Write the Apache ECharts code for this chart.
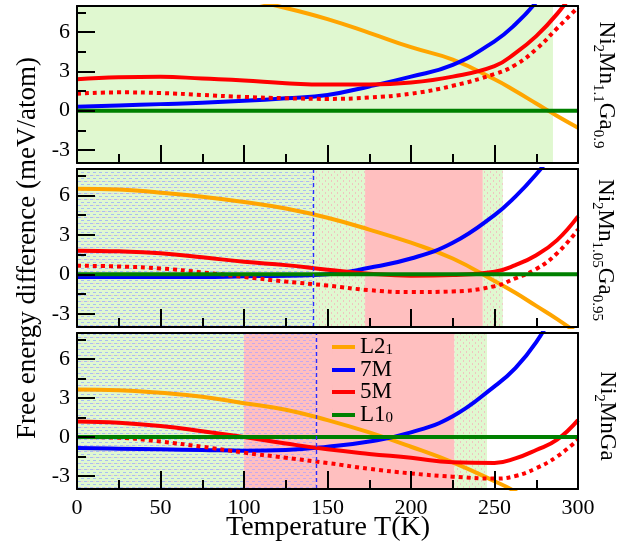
<!DOCTYPE html>
<html>
<head>
<meta charset="utf-8">
<script src="https://cdn.jsdelivr.net/npm/echarts@6/dist/echarts.min.js"></script>
<style>
  html, body { margin: 0; padding: 0; background: #fff; }
  #chart { width: 631px; height: 548px; }
</style>
</head>
<body>
<div id="chart"></div>
<script>
// temperature samples (K)
const temps = [0, 25, 50, 75, 100, 125, 150, 175, 200, 225, 250, 262.5, 275, 287.5, 300]

// Ni2Mn1.1Ga0.9
const p1L21 = [9.8, 9.7, 9.5, 9.1, 8.55, 7.85, 7.0, 5.95, 4.85, 3.9, 2.4, 1.5, 0.55, -0.4, -1.3]
const p1M7 = [0.3, 0.4, 0.5, 0.6, 0.75, 0.95, 1.2, 1.85, 2.6, 3.5, 5.3, 6.6, 8.3, 10.5, 13]
const p1M5 = [2.4, 2.55, 2.6, 2.45, 2.3, 2.1, 2.0, 2.0, 2.15, 2.6, 3.4, 4.4, 5.7, 7.4, 9.5]
const p1M5dot = [1.3, 1.4, 1.35, 1.2, 1.05, 0.95, 0.9, 1.0, 1.3, 1.9, 2.8, 3.5, 4.7, 6.3, 7.9]

// Ni2Mn1.05Ga0.95
const p2L21 = [6.5, 6.45, 6.2, 5.9, 5.5, 5.0, 4.3, 3.4, 2.4, 1.2, -0.5, -1.4, -2.4, -3.4, -4.5]
const p2M7 = [-0.2, -0.2, -0.2, -0.2, -0.15, -0.1, 0.0, 0.5, 1.2, 2.4, 4.5, 5.9, 7.6, 9.6, 12]
const p2M5 = [1.8, 1.75, 1.6, 1.3, 0.95, 0.7, 0.35, 0.05, -0.1, -0.05, 0.2, 0.7, 1.45, 2.6, 4.4]
const p2M5dot = [0.65, 0.6, 0.45, 0.15, -0.2, -0.55, -0.85, -1.2, -1.35, -1.3, -0.9, -0.3, 0.4, 1.6, 3.4]

// Ni2MnGa
const p3L21 = [3.65, 3.6, 3.4, 3.1, 2.6, 2.1, 1.3, 0.35, -0.75, -1.95, -3.4, -4.2, -5.3, -6.4, -7.6]
const p3M7 = [-0.85, -0.9, -0.95, -1.0, -1.05, -1.0, -0.75, -0.35, 0.35, 1.6, 3.9, 5.3, 7.3, 10, 13]
const p3M5 = [1.2, 1.1, 0.85, 0.45, 0.0, -0.5, -0.95, -1.3, -1.6, -1.95, -2.0, -1.65, -1.0, -0.2, 1.3]
const p3M5dot = [0.0, -0.05, -0.35, -0.75, -1.2, -1.6, -2.0, -2.45, -2.8, -3.05, -3.2, -3.0, -2.4, -1.5, -0.2]

const L10 = temps.map(() => 0)

// shaded phase regions [from, to, fill]
const regions1 = [[0, 285, 'green']]
const regions2 = [[0, 141.5, 'blueGreen'], [141.5, 172.5, 'redGreen'], [172.5, 243, 'pink'], [243, 255, 'redGreen']]
const regions3 = [[0, 100, 'blueGreen'], [100, 143.5, 'bluePink'], [143.5, 226, 'pink'], [226, 245.5, 'redGreen']]
const dashAt = [null, 141.5, 143.5]

const xTicks = [0, 300]
const yMajor = [-3, 0, 3, 6]
const yMinor = [-1.5, 1.5, 4.5, 7.5]
const compounds = [
  '{n|Ni}{s|2}{n|Mn}{s|1.1}{n|Ga}{s|0.9}',
  '{n|Ni}{s|2}{n|Mn}{s|1.05}{n|Ga}{s|0.95}',
  '{n|Ni}{s|2}{n|MnGa}'
]
const legendNames = ['L21', '7M', '5M', 'L10']
const legendLabels = { L21: '{n|L2}{s|1}', '7M': '{n|7M}', '5M': '{n|5M}', L10: '{n|L1}{s|0}' }

const FONT = 'Liberation Serif'
const GREEN = '#e0f8d0'
const PINK = '#ffbfbf'

function makePattern(bg, dots) {
  const c = document.createElement('canvas')
  c.width = 6
  c.height = 6
  const ctx = c.getContext('2d')
  ctx.fillStyle = bg
  ctx.fillRect(0, 0, 6, 6)
  dots.forEach(([col, x, y, w, h]) => {
    ctx.fillStyle = col
    ctx.fillRect(x, y, w, h)
  })
  return { image: c, repeat: 'repeat' }
}

const fills = {
  green: GREEN,
  pink: PINK,
  blueGreen: makePattern(GREEN, [['#a9bdf2', 0, 1, 3, 1], ['#a9bdf2', 3, 4, 3, 1], ['#ecd2cf', 3, 1, 2, 1]]),
  bluePink: makePattern(PINK, [['#c5a9ee', 0, 1, 3, 1], ['#c5a9ee', 3, 4, 3, 1]]),
  redGreen: makePattern(GREEN, [['#f0c4c0', 1, 0, 1, 2], ['#f0c4c0', 4, 3, 1, 2]])
}

const chart = echarts.init(document.getElementById('chart'))

const grids = [
  { left: 77, right: 53, top: 6, height: 157 },
  { left: 77, right: 53, top: 169, height: 158 },
  { left: 77, right: 53, top: 333, height: 156 }
]

const xAxes = []
const yAxes = []
const series = []
const panels = [
  [p1L21, p1M7, p1M5, p1M5dot, regions1],
  [p2L21, p2M7, p2M5, p2M5dot, regions2],
  [p3L21, p3M7, p3M5, p3M5dot, regions3]
]

const lineBlack = { color: '#000', width: 2 }

panels.forEach((p, i) => {
  xAxes.push({
    gridIndex: i, type: 'value', position: 'bottom', min: xTicks[0], max: xTicks[1], interval: 50, z: 5,
    axisLine: { show: true, onZero: false, lineStyle: lineBlack },
    axisTick: { show: true, inside: true, length: 18, lineStyle: lineBlack },
    minorTick: { show: true, splitNumber: 2, length: 9, lineStyle: lineBlack },
    axisLabel: { show: i === 2, margin: 8, color: '#000', fontFamily: FONT, fontSize: 22 },
    splitLine: { show: false }
  })
  xAxes.push({
    gridIndex: i, type: 'value', position: 'top', min: xTicks[0], max: xTicks[1], z: 5,
    axisLine: { show: true, onZero: false, lineStyle: lineBlack },
    axisTick: { show: false }, axisLabel: { show: false }, splitLine: { show: false }
  })
  yAxes.push({
    gridIndex: i, type: 'value', position: 'left', min: -4, max: 8, z: 5,
    axisLine: { show: true, onZero: false, lineStyle: lineBlack },
    axisTick: { show: true, inside: true, length: 18, lineStyle: lineBlack, customValues: yMajor },
    axisLabel: { show: true, margin: 7, color: '#000', fontFamily: FONT, fontSize: 22, customValues: yMajor },
    splitLine: { show: false }
  })
  yAxes.push({
    gridIndex: i, type: 'value', position: 'left', min: -4, max: 8, z: 5,
    axisLine: { show: false, onZero: false },
    axisTick: { show: true, inside: true, length: 9, lineStyle: lineBlack, customValues: yMinor },
    axisLabel: { show: false }, splitLine: { show: false }
  })
  yAxes.push({
    gridIndex: i, type: 'value', position: 'right', min: -4, max: 8, z: 5,
    axisLine: { show: true, onZero: false, lineStyle: lineBlack },
    axisTick: { show: false }, axisLabel: { show: false }, splitLine: { show: false }
  })

  const xi = i * 2
  const yi = i * 3
  const pts = vals => temps.map((t, k) => [t, vals[k]])

  // background phase regions
  const bg = {
    type: 'line', xAxisIndex: xi, yAxisIndex: yi, z: 1, silent: true,
    data: [[0, 0]], symbol: 'none', lineStyle: { opacity: 0 },
    markArea: {
      silent: true,
      data: p[4].map(r => [{ xAxis: r[0], itemStyle: { color: fills[r[2]] } }, { xAxis: r[1] }])
    }
  }
  if (dashAt[i] !== null) {
    bg.markLine = {
      silent: true, symbol: 'none', label: { show: false },
      lineStyle: { color: '#2b2bff', width: 1.4, type: [4, 3] },
      data: [{ xAxis: dashAt[i] }]
    }
  }
  series.push(bg)

  const mk = (name, data, color, dash) => ({
    name: name, type: 'line', xAxisIndex: xi, yAxisIndex: yi, z: 2,
    data: pts(data), smooth: 0.45, symbol: 'none', showSymbol: false, silent: true,
    lineStyle: { color: color, width: 4, type: dash || 'solid', cap: 'butt' },
    itemStyle: { color: color }
  })
  series.push(mk('L21', p[0], '#ffa500'))
  series.push(mk('7M', p[1], '#0000ff'))
  series.push(mk('5M', p[2], '#ff0000'))
  series.push(mk('5M dotted', p[3], '#ff0000', [4, 4]))
  series.push(mk('L10', L10, '#008000'))
})

// subscripts: pad the main text at the bottom, the subscript at the top
const labelRich = {
  n: { fontFamily: FONT, fontSize: 23, color: '#000', lineHeight: 24, padding: [0, 0, 8, 0] },
  s: { fontFamily: FONT, fontSize: 15, color: '#000', lineHeight: 16, padding: [12, 0, 4, 0] }
}

const compoundPos = [[602, 85], [601, 250], [603, 416]]

const graphic = [
  {
    type: 'text', x: 28, y: 248, rotation: Math.PI / 2,
    style: { text: 'Free energy difference (meV/atom)', font: '27px "Liberation Serif"', fill: '#000', align: 'center', verticalAlign: 'middle' }
  },
  {
    type: 'text', x: 328, y: 528,
    style: { text: 'Temperature T(K)', font: '28px "Liberation Serif"', fill: '#000', align: 'center', verticalAlign: 'middle' }
  }
]
compounds.forEach((txt, i) => {
  graphic.push({
    type: 'text', x: compoundPos[i][0], y: compoundPos[i][1], rotation: -Math.PI / 2,
    style: { text: txt, rich: labelRich, align: 'center', verticalAlign: 'middle' }
  })
})

// one legend box per row so the rows sit at fixed spacing
const legendTops = [335.5, 358.5, 380.5, 403.5]
const legends = legendNames.map((name, k) => ({
  data: [name],
  selectedMode: false,
  left: 332,
  top: legendTops[k],
  padding: 0,
  itemWidth: 23,
  itemHeight: 14,
  icon: 'path://M0,5H23V9H0Z M0,0H0.01V14H0Z',
  formatter: n => legendLabels[n],
  textStyle: {
    fontFamily: FONT,
    fontSize: 23,
    color: '#000',
    rich: {
      n: { fontFamily: FONT, fontSize: 23, color: '#000', lineHeight: 19 },
      s: { fontFamily: FONT, fontSize: 15, color: '#000', lineHeight: 12, padding: [7, 0, 0, 0] }
    }
  }
}))

chart.setOption({
  animation: false,
  backgroundColor: '#fff',
  grid: grids,
  xAxis: xAxes,
  yAxis: yAxes,
  legend: legends,
  graphic: graphic,
  series: series
})
</script>
</body>
</html>
